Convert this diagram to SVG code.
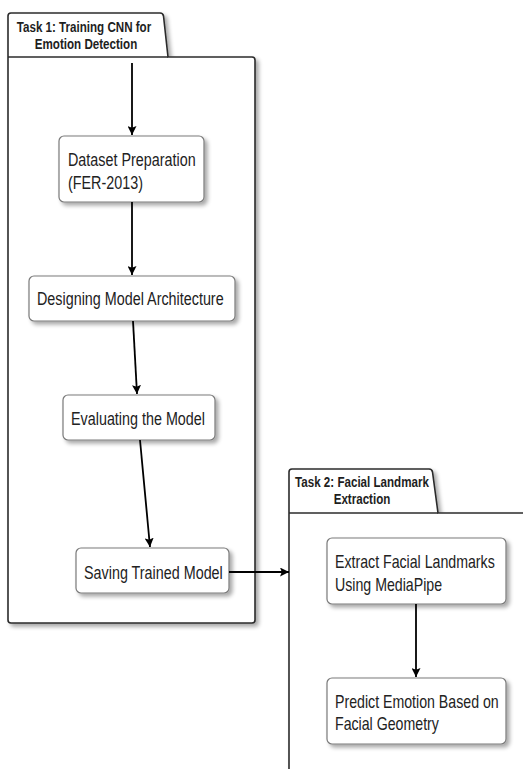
<svg xmlns="http://www.w3.org/2000/svg" width="523" height="769" viewBox="0 0 523 769">
  <style>
    .frame { fill: #ffffff; stroke: #2b2b2b; stroke-width: 1.6; }
    .sep { fill: none; stroke: #2b2b2b; stroke-width: 1.6; }
    .box { fill: #ffffff; stroke: #7a7a7a; stroke-width: 1.2; }
    .title { font-family: "Liberation Sans", Arial, sans-serif; font-size: 14.5px; font-weight: bold; fill: #1e1e1e; }
    .label { font-family: "Liberation Sans", Arial, sans-serif; font-size: 17.5px; fill: #222222; }
    .edge { fill: none; stroke: #000000; stroke-width: 1.8; }
  </style>
  <defs>
    <filter id="shadow" x="-10%" y="-10%" width="130%" height="140%">
      <feGaussianBlur in="SourceAlpha" stdDeviation="2"/>
      <feOffset dx="3" dy="3" result="blur"/>
      <feComponentTransfer><feFuncA type="linear" slope="0.35"/></feComponentTransfer>
      <feMerge><feMergeNode/><feMergeNode in="SourceGraphic"/></feMerge>
    </filter>
    <marker id="arrow" viewBox="0 0 10 10" refX="10" refY="5" markerWidth="9" markerHeight="9" markerUnits="userSpaceOnUse" orient="auto">
      <path d="M0,0 L10,5 L0,10 L2,5 Z" fill="#000000"/>
    </marker>
  </defs>

  <rect width="523" height="769" fill="#ffffff"/>

  <!-- Task 1 package frame -->
  <g id="task1">
    <path class="frame" filter="url(#shadow)" d="M8,620 L8,16 Q8,13 11,13 L160,13 Q163,13 163.5,16 L168,57 L252,57 Q255,57 255,60 L255,620 Q255,623 252,623 L11,623 Q8,623 8,620 Z"/>
    <line class="sep" x1="8" y1="57" x2="168" y2="57"/>
    <g transform="translate(84,0) scale(0.8,1)">
      <text class="title" x="0" y="32" text-anchor="middle">Task 1: Training CNN for</text>
      <text class="title" x="2.5" y="49" text-anchor="middle">Emotion Detection</text>
    </g>
  </g>

  <!-- Task 2 package frame -->
  <g id="task2">
    <path class="frame" filter="url(#shadow)" d="M289,790 L289,472 Q289,469 292,469 L429,469 Q432,469 432.5,472 L438,513 L540,513 L540,790 Z"/>
    <line class="sep" x1="289" y1="513" x2="438" y2="513"/>
    <g transform="translate(362,0) scale(0.8,1)">
      <text class="title" x="0" y="487" text-anchor="middle">Task 2: Facial Landmark</text>
      <text class="title" x="0" y="504" text-anchor="middle">Extraction</text>
    </g>
  </g>

  <!-- Activity nodes -->
  <g id="dataset-preparation">
    <rect class="box" filter="url(#shadow)" x="59" y="136" width="145" height="66" rx="5"/>
    <g transform="translate(68,0) scale(0.82,1)">
      <text class="label" x="0" y="166">Dataset Preparation</text>
      <text class="label" x="0" y="189">(FER-2013)</text>
    </g>
  </g>
  <g id="designing-model">
    <rect class="box" filter="url(#shadow)" x="29" y="276" width="206" height="45" rx="5"/>
    <g transform="translate(37,0) scale(0.82,1)">
      <text class="label" x="0" y="305">Designing Model Architecture</text>
    </g>
  </g>
  <g id="evaluating-model">
    <rect class="box" filter="url(#shadow)" x="63" y="395" width="152" height="45" rx="5"/>
    <g transform="translate(71,0) scale(0.82,1)">
      <text class="label" x="0" y="425">Evaluating the Model</text>
    </g>
  </g>
  <g id="saving-model">
    <rect class="box" filter="url(#shadow)" x="76" y="548" width="153" height="45" rx="5"/>
    <g transform="translate(84,0) scale(0.82,1)">
      <text class="label" x="0" y="579">Saving Trained Model</text>
    </g>
  </g>
  <g id="extract-landmarks">
    <rect class="box" filter="url(#shadow)" x="327" y="538" width="179" height="66" rx="5"/>
    <g transform="translate(335,0) scale(0.81,1)">
      <text class="label" x="0" y="568">Extract Facial Landmarks</text>
      <text class="label" x="0" y="591">Using MediaPipe</text>
    </g>
  </g>
  <g id="predict-emotion">
    <rect class="box" filter="url(#shadow)" x="327" y="678" width="179" height="66" rx="5"/>
    <g transform="translate(335,0) scale(0.81,1)">
      <text class="label" x="0" y="708">Predict Emotion Based on</text>
      <text class="label" x="0" y="730">Facial Geometry</text>
    </g>
  </g>

  <!-- Control flow -->
  <g id="connectors">
    <line class="edge" x1="132" y1="63" x2="132" y2="135" marker-end="url(#arrow)"/>
    <line class="edge" x1="132" y1="202" x2="132" y2="275" marker-end="url(#arrow)"/>
    <line class="edge" x1="133" y1="321" x2="137" y2="394" marker-end="url(#arrow)"/>
    <line class="edge" x1="140" y1="440" x2="150" y2="547" marker-end="url(#arrow)"/>
    <line class="edge" x1="229" y1="572" x2="289" y2="572" marker-end="url(#arrow)"/>
    <line class="edge" x1="416" y1="604" x2="416" y2="677" marker-end="url(#arrow)"/>
  </g>
</svg>
